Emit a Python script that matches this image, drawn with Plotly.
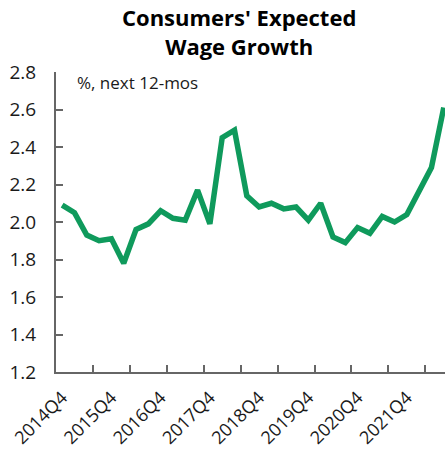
import plotly.graph_objects as go

# Quarterly survey: expected wage growth over the next 12 months (%)
quarters = [
    "2014Q4", "2015Q1", "2015Q2", "2015Q3", "2015Q4", "2016Q1", "2016Q2", "2016Q3",
    "2016Q4", "2017Q1", "2017Q2", "2017Q3", "2017Q4", "2018Q1", "2018Q2", "2018Q3",
    "2018Q4", "2019Q1", "2019Q2", "2019Q3", "2019Q4", "2020Q1", "2020Q2", "2020Q3",
    "2020Q4", "2021Q1", "2021Q2", "2021Q3", "2021Q4", "2022Q1", "2022Q2", "2022Q3",
]
wage_growth = [
    2.09, 2.05, 1.93, 1.90, 1.91, 1.78, 1.96, 1.99,
    2.06, 2.02, 2.01, 2.17, 1.99, 2.45, 2.49, 2.14,
    2.08, 2.10, 2.07, 2.08, 2.01, 2.10, 1.92, 1.89,
    1.97, 1.94, 2.03, 2.00, 2.04, 2.17, 2.29, 2.61,
]
label_every = 4     # one label per year (Q4)
tick_every = 3      # tick marks between categories every 3 quarters
y_ticks = [1.2, 1.4, 1.6, 1.8, 2.0, 2.2, 2.4, 2.6, 2.8]

idx = list(range(len(quarters)))
label_pos = idx[::label_every]
label_text = [quarters[i] for i in label_pos]
boundary_ticks = [k - 0.5 for k in range(tick_every, len(quarters), tick_every)]

axis_grey = "#666666"
text_col = "#1a1a1a"
font_fam = "Open Sans, Noto Sans, sans-serif"

fig = go.Figure()
fig.add_trace(go.Scatter(
    x=idx, y=wage_growth, mode="lines",
    line=dict(color="#0f9a5c", width=5.5, shape="linear"),
    hoverinfo="skip", showlegend=False,
))

fig.update_layout(
    width=445, height=450,
    margin=dict(l=56, r=0, t=72, b=78),
    paper_bgcolor="white", plot_bgcolor="white",
    font=dict(family=font_fam, color=text_col),
    xaxis=dict(
        range=[-0.5, 31.1],
        tickmode="array", tickvals=label_pos, ticktext=label_text,
        tickangle=-45, ticks="",
        tickfont=dict(size=18, color=text_col),
        ticklabelstandoff=6,
        showgrid=False, zeroline=False,
        showline=True, linecolor=axis_grey, linewidth=2,
        minor=dict(tickmode="array", tickvals=boundary_ticks, ticks="inside",
                   ticklen=7, tickwidth=2, tickcolor=axis_grey, showgrid=False),
    ),
    yaxis=dict(
        range=[1.2, 2.8],
        tickmode="array", tickvals=y_ticks, tickformat=".1f",
        ticks="inside", ticklen=7, tickwidth=2, tickcolor=axis_grey,
        tickfont=dict(size=19, color=text_col),
        ticklabelstandoff=14,
        showgrid=False, zeroline=False,
        showline=True, linecolor=axis_grey, linewidth=2,
    ),
    annotations=[
        dict(
            text="<b>Consumers' Expected<br>Wage Growth</b>",
            xref="paper", yref="paper", x=0.47, y=1.24,
            xanchor="center", yanchor="top", align="center",
            showarrow=False,
            font=dict(size=22, family=font_fam, color="#000000"),
        ),
        dict(
            text="%, next 12-mos", xref="paper", yref="paper",
            x=0.05, y=1.01, xanchor="left", yanchor="top",
            showarrow=False, font=dict(size=17, color=text_col),
        ),
    ],
)

fig.write_html("out.html")
